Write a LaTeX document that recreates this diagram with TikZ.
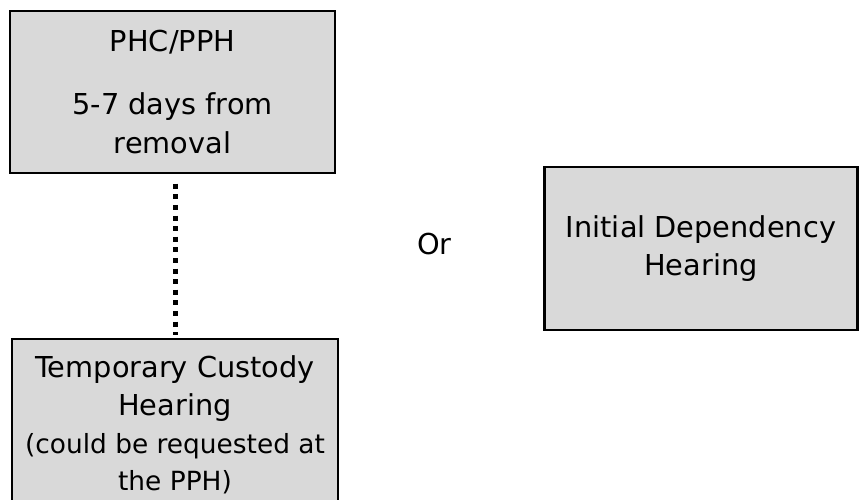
\documentclass[tikz,border=0pt]{standalone}
\usepackage{fontspec}
\setmainfont{DejaVu Sans}
\definecolor{boxgray}{HTML}{D9D9D9}
\tikzset{
  hbox/.style={draw=black, line width=2.4bp, fill=boxgray, align=center, inner sep=0pt,
    font=\fontsize{28.8bp}{38.5bp}\selectfont},
  plain/.style={align=center, inner sep=0pt, font=\fontsize{28.8bp}{38.5bp}\selectfont},
  dotline/.style={line width=5bp, dash pattern=on 5bp off 5.6bp}
}
\begin{document}
\begin{tikzpicture}[x=1bp, y=-1bp]
\useasboundingbox (0,0) rectangle (859,500);
\clip (0,0) rectangle (859,500);
\node[hbox, minimum width=325bp, minimum height=162bp] (phc) at (172.5,92)
  {PHC/PPH\\[24.5bp]5-7 days from\\removal};
\node[hbox, minimum width=313bp, minimum height=163bp] (idh) at (701,248.5)
  {Initial Dependency\\Hearing};
\node[hbox, minimum width=326bp, minimum height=172bp] (tch) at (175,425)
  {Temporary Custody\\Hearing\\[-1bp]{\fontsize{26.4bp}{36bp}\selectfont(could be requested at}\\[-1bp]{\fontsize{26.4bp}{36bp}\selectfont the PPH)}};
\node[plain, anchor=base] (or) at (434.5,255) {Or};
\draw[dotline] ([yshift=-9.5bp]phc.south -| tch.north) -- ([yshift=3bp]tch.north);
\end{tikzpicture}
\end{document}
